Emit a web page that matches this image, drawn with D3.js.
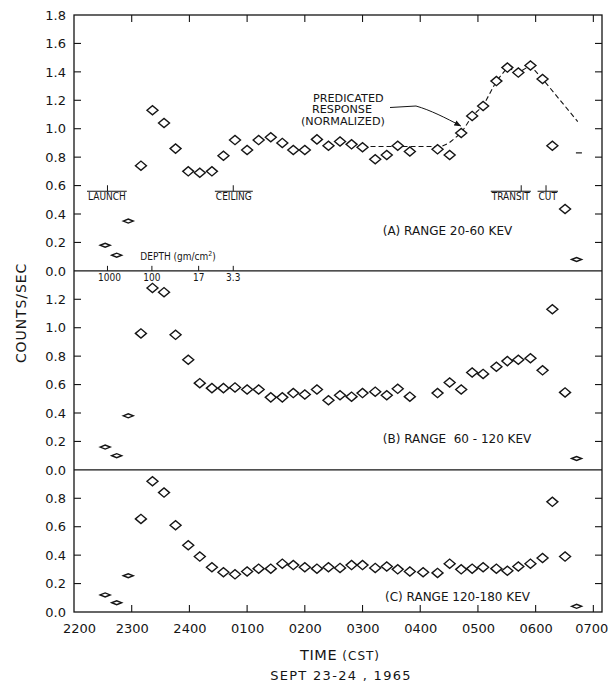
<!DOCTYPE html>
<html><head><meta charset="utf-8">
<script src="https://cdn.jsdelivr.net/npm/d3@7"></script>
<style>
html,body{margin:0;padding:0;background:#fff;}
svg{display:block;}
</style></head><body>
<svg id="chart" width="612" height="684"></svg>
<script>
// ---------------- data ----------------
// sample times, hours after 2200 CST on Sept 23 (24 = midnight)
const times = [22.54, 22.74, 22.94, 23.16, 23.36, 23.56, 23.76, 23.98, 24.18, 24.39,
               24.59, 24.79, 25.00, 25.20, 25.41, 25.61, 25.80, 26.00, 26.21, 26.41,
               26.61, 26.81, 27.00, 27.22, 27.42, 27.61, 27.82, 28.05, 28.30, 28.51,
               28.71, 28.90, 29.09, 29.32, 29.51, 29.70, 29.91, 30.12, 30.29, 30.51, 30.71];
const rangeA = [0.18, 0.11, 0.35, 0.74, 1.13, 1.04, 0.86, 0.70, 0.69, 0.70,
                0.81, 0.92, 0.85, 0.92, 0.94, 0.90, 0.85, 0.85, 0.925, 0.88,
                0.91, 0.89, 0.87, 0.785, 0.815, 0.88, 0.84, null, 0.855, 0.815,
                0.97, 1.09, 1.16, 1.335, 1.43, 1.395, 1.445, 1.35, 0.88, 0.435, 0.08];
const rangeB = [0.16, 0.10, 0.38, 0.96, 1.28, 1.25, 0.95, 0.775, 0.61, 0.575,
                0.575, 0.58, 0.565, 0.565, 0.51, 0.51, 0.54, 0.53, 0.565, 0.49,
                0.525, 0.515, 0.54, 0.55, 0.525, 0.57, 0.515, null, 0.54, 0.615,
                0.565, 0.685, 0.675, 0.725, 0.765, 0.775, 0.785, 0.70, 1.13, 0.545, 0.08];
const rangeC = [0.12, 0.065, 0.255, 0.655, 0.92, 0.84, 0.61, 0.47, 0.39, 0.315,
                0.28, 0.265, 0.285, 0.305, 0.305, 0.34, 0.33, 0.315, 0.305, 0.315,
                0.31, 0.33, 0.33, 0.31, 0.32, 0.30, 0.285, 0.28, 0.275, 0.34,
                0.30, 0.305, 0.315, 0.305, 0.29, 0.32, 0.34, 0.38, 0.775, 0.39, 0.04];
// predicted response (normalized), panel A
const predTimes  = [27.00, 28.37, 28.50, 28.71, 28.90, 29.09, 29.32, 29.51, 29.70, 29.91, 30.12, 30.73];
const predValues = [0.875, 0.875, 0.90, 0.97, 1.09, 1.16, 1.335, 1.43, 1.395, 1.445, 1.35, 1.05];
const predEndMark = [30.75, 0.83];
const arrowTip = [28.70, 1.02];

const xTickValues = [22, 23, 24, 25, 26, 27, 28, 29, 30, 31];
const xTickLabels = ["2200", "2300", "2400", "0100", "0200", "0300", "0400", "0500", "0600", "0700"];
const yTicksA = [0, 0.2, 0.4, 0.6, 0.8, 1.0, 1.2, 1.4, 1.6, 1.8];
const yTicksB = [0, 0.2, 0.4, 0.6, 0.8, 1.0, 1.2];
const yTicksC = [0, 0.2, 0.4, 0.6, 0.8];
const panelMax = [1.8, 1.4, 1.0];
const panelTitles = ["(A) RANGE 20-60 KEV", "(B) RANGE  60 - 120 KEV", "(C) RANGE 120-180 KEV"];

const depthTimes  = [22.58, 23.35, 24.16, 24.76];
const depthLabels = ["1000", "100", "17", "3.3"];
const eventNames = ["LAUNCH", "CEILING", "TRANSIT", "CUT"];
const eventTimes = [22.58, 24.76, 29.75, 30.18];
const eventLabelTimes = [22.57, 24.77, 29.57, 30.21];

// ---------------- drawing ----------------
(function draw() {
const svg = d3.select("#chart");
const L = 74, R = 602, T = 15, B = 612;
const ink = "#151515";
const mainFont = "'DejaVu Sans', Verdana, sans-serif";
const narrowFont = "'Liberation Sans Narrow', 'DejaVu Sans Condensed', 'Arial Narrow', sans-serif";

const x = d3.scaleLinear().domain([22, 31.15]).range([L, R]);
const unit = (B - T) / d3.sum(panelMax);

const panels = [];
let yCursor = T;
const series = [rangeA, rangeB, rangeC];
const tickSets = [yTicksA, yTicksB, yTicksC];
panelMax.forEach((m, i) => {
  const y0 = yCursor + m * unit;
  panels.push({ max: m, values: series[i], ticks: tickSets[i], title: panelTitles[i],
    y: d3.scaleLinear().domain([0, m]).range([y0, yCursor]) });
  yCursor = y0;
});

const g = svg.append("g");

g.append("rect").attr("x", L).attr("y", T).attr("width", R - L).attr("height", B - T)
  .attr("fill", "none").attr("stroke", ink).attr("stroke-width", 1.3);

panels.forEach((p, pi) => {
  if (pi < panels.length - 1) {
    g.append("line").attr("x1", L).attr("x2", R).attr("y1", p.y(0)).attr("y2", p.y(0))
      .attr("stroke", ink).attr("stroke-width", 1.2);
  }
  const ax = d3.axisLeft(p.y).tickValues(p.ticks).tickFormat(d3.format(".1f")).tickSize(0).tickPadding(8);
  const axg = g.append("g").attr("transform", `translate(${L},0)`).call(ax);
  axg.select(".domain").remove();
  axg.selectAll("text").attr("font-family", mainFont).attr("font-size", 13).attr("fill", ink);
  const inner = p.ticks.filter(t => t > 0 && t < p.max);
  g.append("g").selectAll("line").data(inner).join("line")
    .attr("x1", L).attr("x2", L + 7).attr("y1", d => p.y(d)).attr("y2", d => p.y(d))
    .attr("stroke", ink).attr("stroke-width", 1.1);
  const innerR = d3.range(0.2, p.max - 0.01, 0.2);
  g.append("g").selectAll("line").data(innerR).join("line")
    .attr("x1", R - 7).attr("x2", R).attr("y1", d => p.y(d)).attr("y2", d => p.y(d))
    .attr("stroke", ink).attr("stroke-width", 1.1);
});

const xAxis = d3.axisBottom(x).tickValues(xTickValues).tickFormat((d, i) => xTickLabels[i]).tickSize(0).tickPadding(12);
const xg = g.append("g").attr("transform", `translate(0,${B})`).call(xAxis);
xg.select(".domain").remove();
xg.selectAll("text").attr("font-family", mainFont).attr("font-size", 13).attr("fill", ink)
  .attr("dx", (d, i) => i === 0 ? 5 : (i === xTickValues.length - 1 ? -2 : 0));
const innerX = xTickValues.filter(t => t > 22);
g.append("g").selectAll("line").data(innerX).join("line")
  .attr("x1", d => x(d)).attr("x2", d => x(d)).attr("y1", B).attr("y2", B - 7)
  .attr("stroke", ink).attr("stroke-width", 1.1);
g.append("g").selectAll("line").data(innerX).join("line")
  .attr("x1", d => x(d)).attr("x2", d => x(d)).attr("y1", T).attr("y2", T + 7)
  .attr("stroke", ink).attr("stroke-width", 1.1);

g.append("text").attr("x", (L + R) / 2 + 2).attr("y", 660).attr("text-anchor", "middle")
  .attr("font-family", mainFont).attr("fill", ink)
  .call(t => {
    t.append("tspan").attr("font-size", 14.5).attr("letter-spacing", 0.6).text("TIME ");
    t.append("tspan").attr("font-size", 12).attr("letter-spacing", 1).text("(CST)");
  });
g.append("text").attr("x", (L + R) / 2 + 3).attr("y", 680).attr("text-anchor", "middle")
  .attr("font-family", mainFont).attr("font-size", 13).attr("letter-spacing", 1.3).attr("fill", ink)
  .text("SEPT 23-24 , 1965");
g.append("text").attr("transform", `translate(26,313) rotate(-90)`).attr("text-anchor", "middle")
  .attr("font-family", mainFont).attr("font-size", 14).attr("letter-spacing", 0.9).attr("fill", ink)
  .text("COUNTS/SEC");

const titleX = [27.35, 27.35, 27.39];
const titleVal = [0.255, 0.19, 0.08];
panels.forEach((p, i) => {
  g.append("text").attr("x", x(titleX[i])).attr("y", p.y(titleVal[i]))
    .attr("font-family", mainFont).attr("font-size", 12).attr("fill", ink)
    .style("white-space", "pre").text(p.title);
});

const pA = panels[0];
const depthY = pA.y(0);
g.append("g").selectAll("line").data(depthTimes).join("line")
  .attr("x1", d => x(d)).attr("x2", d => x(d)).attr("y1", depthY - 5).attr("y2", depthY)
  .attr("stroke", ink).attr("stroke-width", 1);
g.append("g").selectAll("text").data(depthLabels).join("text")
  .attr("x", (d, i) => x(depthTimes[i]) + (i === 0 ? 2 : 0)).attr("y", depthY + 10)
  .attr("text-anchor", "middle").attr("font-family", narrowFont).attr("font-stretch", "condensed")
  .attr("font-size", 10).attr("fill", ink).text(d => d);
g.append("text").attr("x", x(23.15)).attr("y", depthY - 11)
  .attr("font-family", narrowFont).attr("font-stretch", "condensed").attr("font-size", 10).attr("fill", ink)
  .call(t => {
    t.append("tspan").text("DEPTH (gm/cm");
    t.append("tspan").attr("font-size", 7).attr("dy", -4).text("2");
    t.append("tspan").attr("dy", 4).text(")");
  });

const evY = pA.y(0.56);
eventNames.forEach((name, i) => {
  const t = g.append("text").attr("x", x(eventLabelTimes[i])).attr("y", evY + 9)
    .attr("text-anchor", "middle").attr("font-family", narrowFont).attr("font-stretch", "condensed")
    .attr("font-size", 10).attr("fill", ink).text(name);
  const w = t.node().getComputedTextLength();
  const cx = x(eventLabelTimes[i]);
  g.append("line").attr("x1", cx - w / 2 - 1).attr("x2", cx + w / 2 + 1).attr("y1", evY).attr("y2", evY)
    .attr("stroke", ink).attr("stroke-width", 1);
  g.append("line").attr("x1", x(eventTimes[i])).attr("x2", x(eventTimes[i])).attr("y1", evY - 6).attr("y2", evY)
    .attr("stroke", ink).attr("stroke-width", 1);
});

const pred = predTimes.map((t, i) => [t, predValues[i]]);
g.append("path").datum(pred)
  .attr("d", d3.line().x(d => x(d[0])).y(d => pA.y(d[1])))
  .attr("fill", "none").attr("stroke", ink).attr("stroke-width", 1.1).attr("stroke-dasharray", "5,3");
g.append("line").attr("x1", x(predEndMark[0]) - 3).attr("x2", x(predEndMark[0]) + 3)
  .attr("y1", pA.y(predEndMark[1])).attr("y2", pA.y(predEndMark[1])).attr("stroke", ink).attr("stroke-width", 1.2);

const annLines = ["PREDICATED", "RESPONSE", "(NORMALIZED)"];
const annX = [313, 312, 301];
annLines.forEach((s, i) => {
  g.append("text").attr("x", annX[i]).attr("y", 101.5 + i * 11.6)
    .attr("font-family", mainFont).attr("font-size", 11.2).attr("fill", ink).text(s);
});
svg.append("defs").append("marker").attr("id", "ah").attr("viewBox", "0 0 10 10")
  .attr("refX", 9).attr("refY", 5).attr("markerWidth", 7).attr("markerHeight", 7).attr("orient", "auto")
  .append("path").attr("d", "M0,1L10,5L0,9Z").attr("fill", ink);
const tipX = x(arrowTip[0]), tipY = pA.y(arrowTip[1]);
g.append("path").attr("d", `M390,107.5L416,106C430,110 446,118 ${tipX},${tipY}`)
  .attr("fill", "none").attr("stroke", ink).attr("stroke-width", 1).attr("marker-end", "url(#ah)");

panels.forEach(p => {
  const n = p.values.length;
  const pts = p.values.map((v, i) => ({ t: times[i], v, flat: i < 3 || i === n - 1 })).filter(d => d.v != null);
  g.append("g").selectAll("path").data(pts).join("path")
    .attr("transform", d => `translate(${x(d.t)},${p.y(d.v)})`)
    .attr("d", d => {
      const w = d.flat ? 5 : 5.5, h = d.flat ? 2 : 4.6;
      return `M${-w},0L0,${-h}L${w},0L0,${h}Z`;
    })
    .attr("fill", "#fff").attr("stroke", ink).attr("stroke-width", 1.4);
});
})();
</script>
</body></html>
